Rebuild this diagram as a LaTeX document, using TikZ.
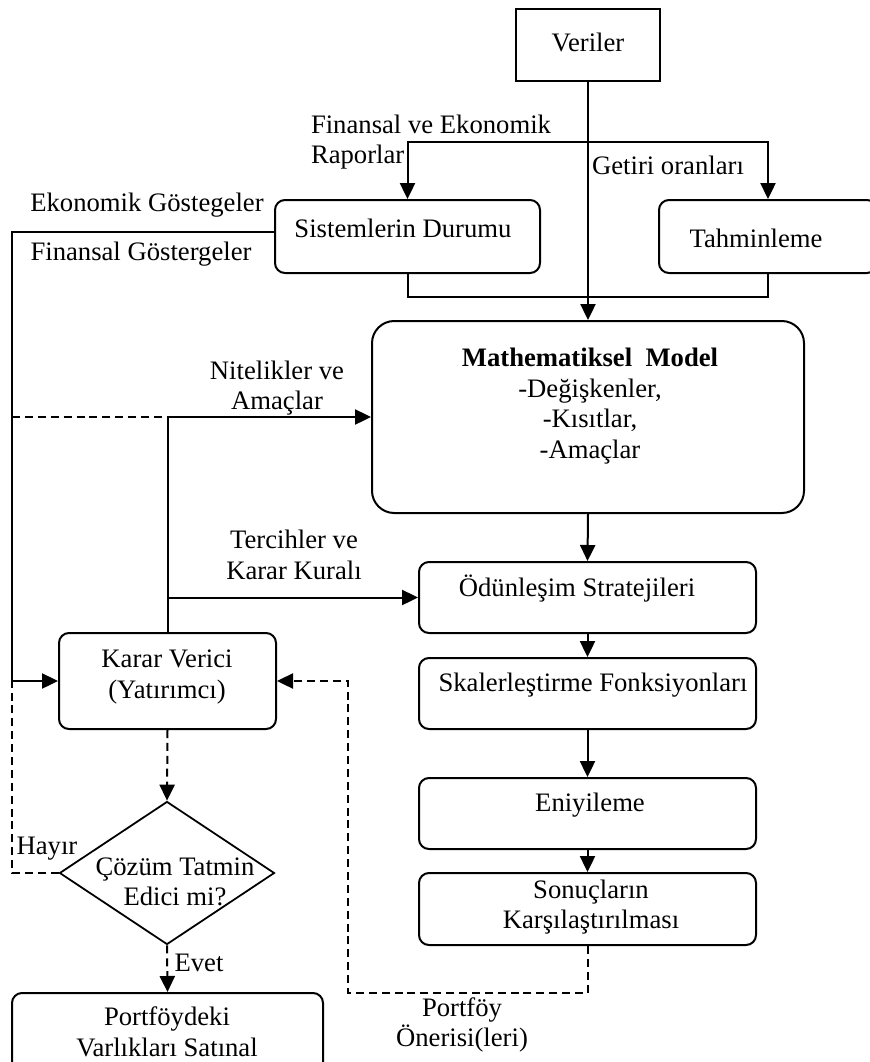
\documentclass[tikz,border=0pt]{standalone}
\usepackage{fontspec}
\setmainfont{Liberation Serif}
\usetikzlibrary{arrows.meta,shapes.geometric,fit}
\begin{document}
\begin{tikzpicture}[x=0.45pt,y=-0.45pt,
  font=\fontsize{12pt}{13.8pt}\selectfont,
  line width=0.9pt,
  >={Triangle[length=7.2pt,width=6.8pt]},
  box/.style={draw, rounded corners=4.5pt, inner sep=0pt},
  txt/.style={align=center, inner sep=0pt},
  fb/.style={dash pattern=on 3.6pt off 2.2pt}]
\useasboundingbox (0,0) rectangle (869,1062);

% boxes
\node[draw, inner sep=0pt, fit={(516,9) (660,81)}] (ver) {};
\node[box, fit={(275,200) (540,273)}] (sd) {};
\node[box, fit={(659,200) (877,273)}] (tah) {};
\node[box, rounded corners=10pt, fit={(372,321) (804,513)}] (mm) {};
\node[box, fit={(419,562) (756,633)}] (od) {};
\node[box, fit={(419,658) (756,729)}] (sk) {};
\node[box, fit={(419,778) (756,849)}] (en) {};
\node[box, fit={(419,873) (756,945)}] (so) {};
\node[box, fit={(59,633) (276,729)}] (kv) {};
\node[box, fit={(12,993) (323,1080)}] (pf) {};
\node[draw, diamond, inner sep=0pt, line width=0.8pt,
      minimum width=96.75pt, minimum height=64.35pt] (dia) at (167,873) {};

% box texts
\node[txt] (verT) at (588,42) {Veriler};
\node[txt] (sdT) at (403,228) {Sistemlerin Durumu};
\node[txt] (tahT) at (756,238) {Tahminleme};
\node[txt] (mmT) at (590,406) {\textbf{Mathematiksel\ \ Model}\\-Değişkenler,\\-Kısıtlar,\\-Amaçlar};
\node[txt] (odT) at (577,589) {Ödünleşim Stratejileri};
\node[txt] (skT) at (593,685) {Skalerleştirme Fonksiyonları};
\node[txt] (enT) at (590,805) {Eniyileme};
\node[txt] (soT) at (591,907) {Sonuçların\\Karşılaştırılması};
\node[txt] (kvT) at (167,677) {Karar Verici\\(Yatırımcı)};
\node[txt] (diaT) at (175,882) {Çözüm Tatmin\\Edici mi?};
\node[txt] (pfT) at (167,1032) {Portföydeki\\Varlıkları Satınal};

% connector labels
\node[txt, align=left, anchor=west] (rapL) at (310,142) {Finansal ve Ekonomik\\Raporlar};
\node[txt] (getL) at (668,165) {Getiri oranları};
\node[txt] (ekL) at (147,205) {Ekonomik Göstegeler};
\node[txt] (fgL) at (141,254) {Finansal Göstergeler};
\node[txt] (nitL) at (277,388) {Nitelikler ve\\Amaçlar};
\node[txt] (terL) at (294,555) {Tercihler ve\\Karar Kuralı};
\node[txt] (hayL) at (47,849) {Hayır};
\node[txt] (evL) at (199,963) {Evet};
\node[txt] (onL) at (462,1025) {Portföy\\Önerisi(leri)};

% junction points
\coordinate (rap) at (588,142);
\coordinate (mrg) at (588,297);
\coordinate (lx) at (12,232);
\coordinate (pc) at (348,993);

% data flow
\draw[->] (ver.south) -- (mm.north);
\draw[->] (rap) -| (sd.north);
\draw[->] (rap) -| (tah.north);
\draw (sd.south) |- (mrg) -| (tah.south);
\draw[->] (sd.west |- lx) -- (lx) |- (kv.west);

% model chain
\draw[->] (mm.south) -- (od.north);
\draw[->] (od.south) -- (sk.north);
\draw[->] (sk.south) -- (en.north);
\draw[->] (en.south) -- (so.north);

% decision maker inputs
\draw[->] (kv.north) |- (mm.west);
\draw[->] (kv.north |- od.west) -- (od.west);

% feedback loops
\draw[fb,->] (kv.south) -- (dia.north);
\draw[fb,->] (dia.south) -- (pf.north);
\draw[fb] (dia.west) -| (lx |- mm.west) -- (kv.north |- mm.west);
\draw[fb,->] (so.south) |- (pc) |- (kv.east);
\end{tikzpicture}
\end{document}
